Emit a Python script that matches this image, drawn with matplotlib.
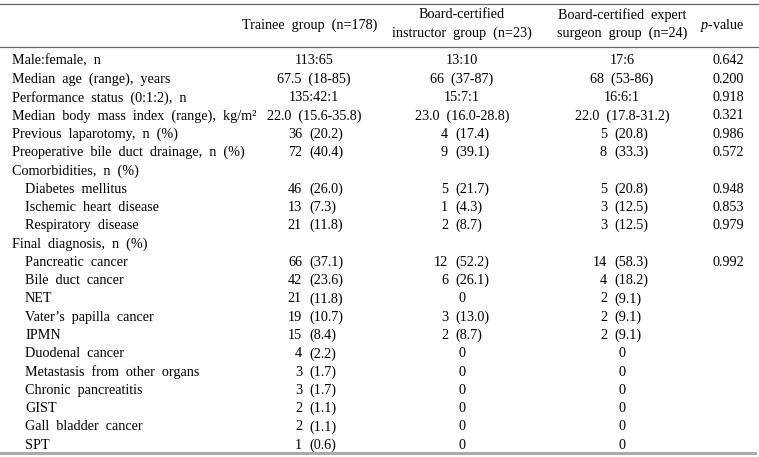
import re
import matplotlib.pyplot as plt

plt.rcParams['font.family'] = 'Liberation Serif'
plt.rcParams['mathtext.fontset'] = 'custom'
plt.rcParams['mathtext.rm'] = 'Liberation Serif'
plt.rcParams['mathtext.it'] = 'Liberation Serif:italic'

# header text
headers = [["Trainee group (n=178)"],
           ["Board-certified", "instructor group (n=23)"],
           ["Board-certified expert", "surgeon group (n=24)"],
           ["$p$-value"]]

# row labels, True = indented sub item
labels = ["Male:female, n", "Median age (range), years", "Performance status (0:1:2), n",
          "Median body mass index (range), kg/m²", "Previous laparotomy, n (%)",
          "Preoperative bile duct drainage, n (%)", "Comorbidities, n (%)",
          "Diabetes mellitus", "Ischemic heart disease", "Respiratory disease",
          "Final diagnosis, n (%)", "Pancreatic cancer", "Bile duct cancer", "NET",
          "Vater’s papilla cancer", "IPMN", "Duodenal cancer", "Metastasis from other organs",
          "Chronic pancreatitis", "GIST", "Gall bladder cancer", "SPT"]
indent = [False] * 7 + [True] * 3 + [False] + [True] * 11

trainee = ["113:65", "67.5 (18-85)", "135:42:1", "22.0 (15.6-35.8)", "36 (20.2)", "72 (40.4)", "",
           "46 (26.0)", "13 (7.3)", "21 (11.8)", "",
           "66 (37.1)", "42 (23.6)", "21 (11.8)", "19 (10.7)", "15 (8.4)", "4 (2.2)",
           "3 (1.7)", "3 (1.7)", "2 (1.1)", "2 (1.1)", "1 (0.6)"]
instructor = ["13:10", "66 (37-87)", "15:7:1", "23.0 (16.0-28.8)", "4 (17.4)", "9 (39.1)", "",
              "5 (21.7)", "1 (4.3)", "2 (8.7)", "",
              "12 (52.2)", "6 (26.1)", "0", "3 (13.0)", "2 (8.7)", "0",
              "0", "0", "0", "0", "0"]
expert = ["17:6", "68 (53-86)", "16:6:1", "22.0 (17.8-31.2)", "5 (20.8)", "8 (33.3)", "",
          "5 (20.8)", "3 (12.5)", "3 (12.5)", "",
          "14 (58.3)", "4 (18.2)", "2 (9.1)", "2 (9.1)", "2 (9.1)", "0",
          "0", "0", "0", "0", "0"]
pvalue = ["0.642", "0.200", "0.918", "0.321", "0.986", "0.572", "",
          "0.948", "0.853", "0.979", "",
          "0.992", "", "", "", "", "", "", "", "", "", ""]

W, H = 759, 457
fig = plt.figure(figsize=(W / 100, H / 100), dpi=100)
ax = fig.add_axes([0, 0, 1, 1])
ax.set_xlim(0, W)
ax.set_ylim(H, 0)
ax.axis('off')

fs = 10.2
wide = lambda s: s.replace(' ', '  ') if '$' not in s else s

# column centers and anchors for "n (%)" values
head_x = [310, 462, 622, 722]
centers = [314, 462, 622, 728]
anchors = [302, 448, 607]

# rules
ax.plot([0, W], [3.5, 3.5], color='#666666', lw=0.9)
ax.plot([0, W], [47, 47], color='#666666', lw=0.9)
ax.plot([0, 755], [453, 453], color='#aaaaaa', lw=2.2)

# header
for c, lines in zip(head_x, headers):
    if len(lines) == 1:
        ax.text(c, 25, wide(lines[0]), ha='center', va='center', fontsize=fs)
    else:
        ax.text(c, 15, wide(lines[0]), ha='center', va='center', fontsize=fs)
        ax.text(c, 33, wide(lines[1]), ha='center', va='center', fontsize=fs)

y0, dy = 61, 18.3
pat = re.compile(r'^(\d+) (\(\d+\.\d+\))$')
for i, lab in enumerate(labels):
    y = y0 + i * dy
    ax.text(25 if indent[i] else 12, y, wide(lab), ha='left', va='center', fontsize=fs)
    for j, col in enumerate([trainee, instructor, expert]):
        s = col[i]
        m = pat.match(s)
        if m:
            ax.text(anchors[j], y, m.group(1), ha='right', va='center', fontsize=fs)
            ax.text(anchors[j] + 7, y, m.group(2), ha='left', va='center', fontsize=fs)
        elif s:
            ax.text(centers[j], y, wide(s), ha='center', va='center', fontsize=fs)
    if pvalue[i]:
        ax.text(centers[3], y, pvalue[i], ha='center', va='center', fontsize=fs)

fig.savefig('out.png', dpi=100)
